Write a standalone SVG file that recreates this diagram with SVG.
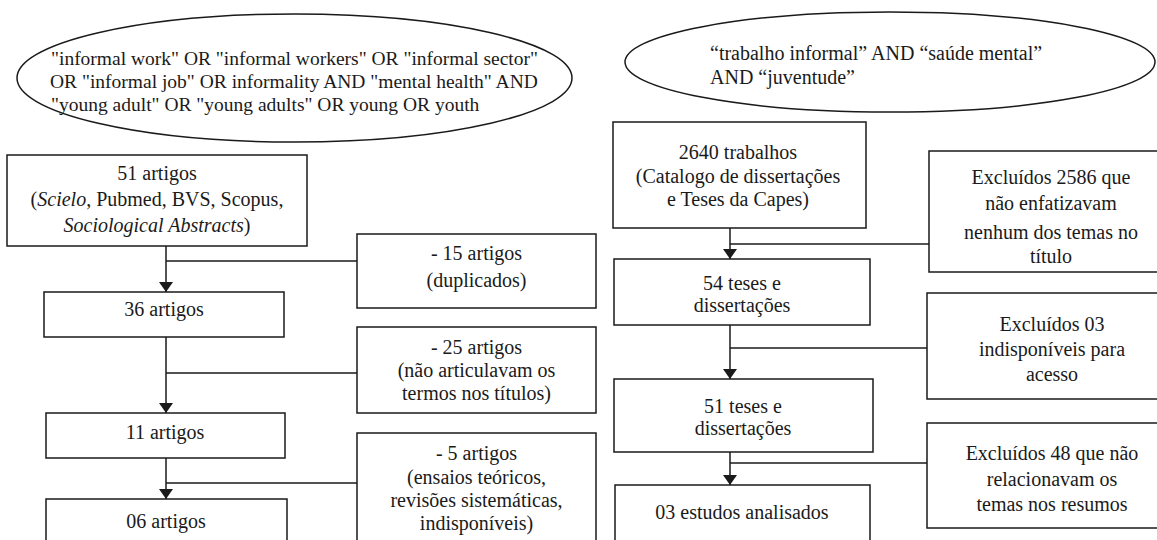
<svg xmlns="http://www.w3.org/2000/svg" width="1157" height="540" viewBox="0 0 1157 540">
<style>
  .shape { fill: #ffffff; stroke: #1a1a1a; stroke-width: 1.5; }
  .conn { fill: none; stroke: #1a1a1a; stroke-width: 1.5; }
  text { font-size: 20px; fill: #1a1a1a; }
  .c { text-anchor: middle; }
  .q { font-size: 19.5px; }
  .i { font-style: italic; }
</style>
<defs>
  <marker id="arrow" viewBox="0 0 10 14" refX="10" refY="7" markerWidth="10" markerHeight="14" markerUnits="userSpaceOnUse" orient="auto">
    <path d="M0,0 L10,7 L0,14 Z" fill="#1a1a1a"/>
  </marker>
</defs>
<rect width="1157" height="540" fill="#ffffff"/>
<g font-family="Liberation Serif, Times New Roman, serif">

<g id="query-en">
  <ellipse class="shape" cx="294.5" cy="78" rx="277.5" ry="64"/>
  <text class="q" x="51" y="65">"informal work" OR "informal workers" OR "informal sector"</text>
  <text class="q" x="50" y="88">OR "informal job" OR informality AND "mental health" AND</text>
  <text class="q" x="51" y="111">"young adult" OR "young adults" OR young OR youth</text>
</g>

<g id="query-pt">
  <ellipse class="shape" cx="890" cy="62" rx="265" ry="50"/>
  <text x="710" y="60">“trabalho informal” AND “saúde mental”</text>
  <text x="710" y="84">AND “juventude”</text>
</g>

<g id="connectors">
  <line class="conn" x1="166" y1="246" x2="166" y2="292" marker-end="url(#arrow)"/>
  <line class="conn" x1="166" y1="261" x2="357" y2="261"/>
  <line class="conn" x1="166" y1="337" x2="166" y2="413" marker-end="url(#arrow)"/>
  <line class="conn" x1="166" y1="373" x2="357" y2="373"/>
  <line class="conn" x1="166" y1="458" x2="166" y2="499" marker-end="url(#arrow)"/>
  <line class="conn" x1="166" y1="483" x2="357" y2="483"/>

  <line class="conn" x1="730" y1="228" x2="730" y2="259" marker-end="url(#arrow)"/>
  <line class="conn" x1="730" y1="244" x2="929" y2="244"/>
  <line class="conn" x1="730" y1="325" x2="730" y2="379" marker-end="url(#arrow)"/>
  <line class="conn" x1="730" y1="348" x2="927" y2="348"/>
  <line class="conn" x1="730" y1="452" x2="730" y2="485" marker-end="url(#arrow)"/>
  <line class="conn" x1="730" y1="463" x2="927" y2="463"/>
</g>

<g id="box-51-artigos">
  <rect class="shape" x="7" y="155" width="300" height="91"/>
  <text class="c" x="157" y="180">51 artigos</text>
  <text class="c" x="157" y="206">(<tspan class="i">Scielo</tspan>, Pubmed, BVS, Scopus,</text>
  <text class="c" x="157" y="232"><tspan class="i">Sociological Abstracts</tspan>)</text>
</g>

<g id="box-36-artigos">
  <rect class="shape" x="44" y="292" width="240" height="45"/>
  <text class="c" x="164" y="316">36 artigos</text>
</g>

<g id="box-11-artigos">
  <rect class="shape" x="46" y="413" width="239" height="45"/>
  <text class="c" x="165" y="439">11 artigos</text>
</g>

<g id="box-06-artigos">
  <rect class="shape" x="46" y="499" width="241" height="60"/>
  <text class="c" x="166" y="528">06 artigos</text>
</g>

<g id="box-excl-15">
  <rect class="shape" x="357" y="234" width="239" height="74"/>
  <text class="c" x="476.5" y="260">- 15 artigos</text>
  <text class="c" x="476.5" y="287">(duplicados)</text>
</g>

<g id="box-excl-25">
  <rect class="shape" x="357" y="327" width="239" height="86"/>
  <text class="c" x="476.5" y="354">- 25 artigos</text>
  <text class="c" x="476.5" y="377">(não articulavam os</text>
  <text class="c" x="476.5" y="400">termos nos títulos)</text>
</g>

<g id="box-excl-5">
  <rect class="shape" x="357" y="433" width="239" height="130"/>
  <text class="c" x="476.5" y="460">- 5 artigos</text>
  <text class="c" x="476.5" y="484">(ensaios teóricos,</text>
  <text class="c" x="476.5" y="507">revisões sistemáticas,</text>
  <text class="c" x="476.5" y="530">indisponíveis)</text>
</g>

<g id="box-2640">
  <rect class="shape" x="613" y="122" width="253" height="106"/>
  <text class="c" x="738" y="159">2640 trabalhos</text>
  <text class="c" x="738" y="183">(Catalogo de dissertações</text>
  <text class="c" x="738" y="206">e Teses da Capes)</text>
</g>

<g id="box-54-teses">
  <rect class="shape" x="614" y="259" width="256" height="66"/>
  <text class="c" x="742" y="290">54 teses e</text>
  <text class="c" x="742" y="312">dissertações</text>
</g>

<g id="box-51-teses">
  <rect class="shape" x="614" y="379" width="259" height="73"/>
  <text class="c" x="743" y="413">51 teses e</text>
  <text class="c" x="743" y="435">dissertações</text>
</g>

<g id="box-03-estudos">
  <rect class="shape" x="615" y="485" width="255" height="70"/>
  <text class="c" x="742" y="519">03 estudos analisados</text>
</g>

<g id="box-excl-2586">
  <rect class="shape" x="929" y="151" width="245" height="121"/>
  <text class="c" x="1051" y="184">Excluídos 2586 que</text>
  <text class="c" x="1051" y="210">não enfatizavam</text>
  <text class="c" x="1051" y="239">nenhum dos temas no</text>
  <text class="c" x="1051" y="263">título</text>
</g>

<g id="box-excl-03">
  <rect class="shape" x="927" y="293" width="249" height="106"/>
  <text class="c" x="1052" y="331">Excluídos 03</text>
  <text class="c" x="1052" y="356">indisponíveis para</text>
  <text class="c" x="1052" y="381">acesso</text>
</g>

<g id="box-excl-48">
  <rect class="shape" x="927" y="423" width="249" height="105"/>
  <text class="c" x="1052" y="460">Excluídos 48 que não</text>
  <text class="c" x="1052" y="486">relacionavam os</text>
  <text class="c" x="1052" y="511">temas nos resumos</text>
</g>

</g>
</svg>
